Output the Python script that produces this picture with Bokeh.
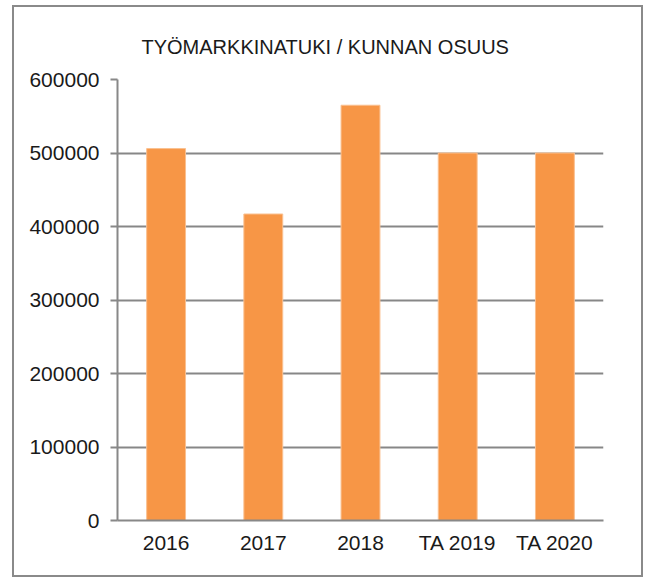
from bokeh.plotting import figure
from bokeh.models import ColumnDataSource, FixedTicker, NumeralTickFormatter, Range1d
from bokeh.embed import file_html
from bokeh.resources import INLINE

# --- data ---
categories = ["2016", "2017", "2018", "TA 2019", "TA 2020"]
values = [506000, 417000, 565000, 500000, 500000]
y_ticks = [0, 100000, 200000, 300000, 400000, 500000, 600000]
title_text = "TYÖMARKKINATUKI  / KUNNAN  OSUUS"

FONT = "Liberation Sans"
GREY = "#888888"

source = ColumnDataSource(data=dict(cat=categories, val=values))

p = figure(
    x_range=categories,
    y_range=Range1d(0, 600000),
    frame_width=486,
    frame_height=441,
    min_border_left=103,
    min_border_right=38,
    min_border_top=72,
    min_border_bottom=55,
    output_backend="svg",
    toolbar_location=None,
    title=title_text,
    styles={"border": "2px solid #8a8a8a", "margin-left": "12px", "margin-top": "5px"},
)

p.vbar(x="cat", top="val", width=0.4, source=source,
       fill_color="#F79646", line_color="#FAC090", line_width=1)

p.title.text_font = FONT
p.title.text_font_size = "20px"
p.title.text_font_style = "normal"
p.title.text_color = "#1a1a1a"
p.title.align = "left"
p.title.offset = 24
p.title.vertical_align = "top"
p.title.standoff = 40

p.outline_line_color = None
p.background_fill_color = "white"
p.border_fill_color = "white"

p.xgrid.grid_line_color = None
p.ygrid.grid_line_color = "#878787"
p.ygrid.grid_line_width = 2
p.ygrid.ticker = FixedTicker(ticks=y_ticks)

p.yaxis.ticker = FixedTicker(ticks=y_ticks)
p.yaxis.formatter = NumeralTickFormatter(format="0")
p.yaxis.axis_line_color = GREY
p.yaxis.axis_line_width = 2
p.yaxis.major_tick_line_color = GREY
p.yaxis.major_tick_line_width = 2
p.yaxis.major_tick_out = 7
p.yaxis.major_tick_in = 0
p.yaxis.minor_tick_line_color = None
p.yaxis.major_label_standoff = 11

p.xaxis.axis_line_color = GREY
p.xaxis.axis_line_width = 2
p.xaxis.major_tick_line_color = None
p.xaxis.minor_tick_line_color = None
p.xaxis.major_label_standoff = 4

for ax in (p.xaxis, p.yaxis):
    ax.major_label_text_font = FONT
    ax.major_label_text_font_size = "21px"
    ax.major_label_text_color = "#1a1a1a"

open("out.html", "w").write(file_html(p, INLINE))
